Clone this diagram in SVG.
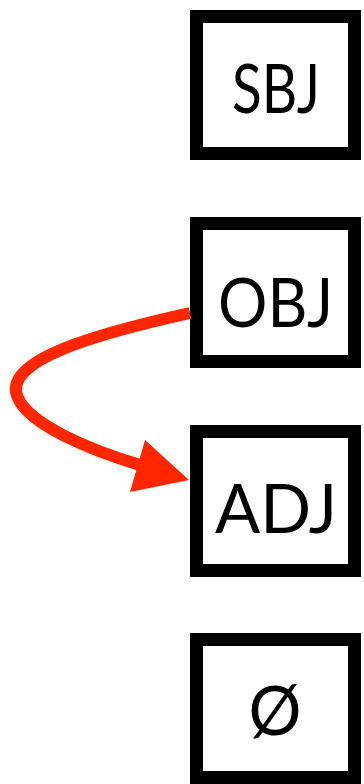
<svg xmlns="http://www.w3.org/2000/svg" width="364" height="784" viewBox="0 0 364 784">
<style>
.box{fill:#fff;stroke:#000;stroke-width:13}
.lbl{font-family:"Lato","Open Sans",sans-serif;font-size:68px;fill:#000;text-anchor:middle}
.edge{fill:none;stroke:#ff2600;stroke-width:12}
.head{fill:#ff2600}
</style>
<rect width="364" height="784" fill="#fff"/>
<g id="node-sbj"><rect class="box" x="196.5" y="16.5" width="158" height="137"/><text class="lbl" x="276" y="113" textLength="88" lengthAdjust="spacingAndGlyphs">SBJ</text></g>
<g id="node-obj"><rect class="box" x="196.5" y="223.5" width="158" height="138"/><text class="lbl" x="275.5" y="327" textLength="115" lengthAdjust="spacingAndGlyphs">OBJ</text></g>
<g id="node-adj"><rect class="box" x="196.5" y="431.5" width="158" height="139"/><text class="lbl" x="276" y="533" textLength="122" lengthAdjust="spacingAndGlyphs">ADJ</text></g>
<g id="node-empty"><rect class="box" x="196.5" y="639.5" width="158" height="138"/><text class="lbl" x="275" y="735" textLength="53" lengthAdjust="spacingAndGlyphs">Ø</text></g>
<g id="connectors">
<path class="edge" d="M190 313 C100 333 0 360 18 398 C30 425 90 450 140 465"/>
<polygon class="head" points="189,480 145,440 130,492"/>
</g>
</svg>
